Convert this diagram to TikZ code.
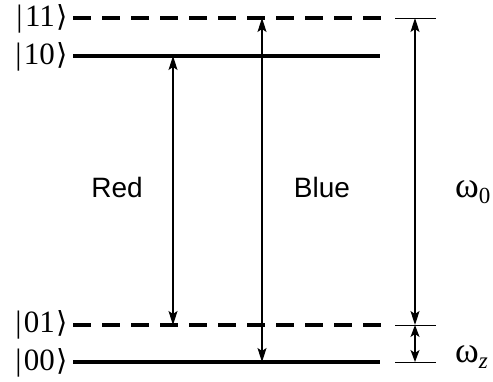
\documentclass[tikz,border=0pt]{standalone}
\usepackage{fontspec}
\setmainfont{Liberation Serif}
\newfontfamily\arialfont{Liberation Sans}
\newfontfamily\dvfont{DejaVu Sans}
\usetikzlibrary{arrows.meta}
\tikzset{
  level/.style={line width=3.6pt},
  dlevel/.style={line width=3.6pt, dash pattern=on 18pt off 11pt},
  trans/.style={line width=1.3pt, {Stealth[length=14pt,width=9pt,inset=3pt]}-{Stealth[length=14pt,width=9pt,inset=3pt]}},
  tick/.style={line width=0.8pt},
  ket/.style={anchor=east, font=\fontsize{31}{33}\selectfont, inner sep=0pt},
  lab/.style={font=\arialfont\fontsize{28}{30}\selectfont, inner sep=0pt, anchor=base},
  om/.style={font=\fontsize{36}{38}\selectfont, inner sep=0pt, anchor=base west}
}
\newcommand{\myket}[1]{|\kern2.5pt#1\kern1.5pt{\dvfont\fontsize{29}{30}\selectfont ⟩}}
\newcommand{\mysub}[1]{\raisebox{-6pt}{\fontsize{23}{23}\selectfont #1}}
\begin{document}
\begin{tikzpicture}[x=1pt,y=-1pt]
\useasboundingbox (0,0) rectangle (493,382);
% level end points
\coordinate (l11a) at (73,18);  \coordinate (l11b) at (382,18);
\coordinate (l10a) at (73,56);  \coordinate (l10b) at (380,56);
\coordinate (l01a) at (73,325); \coordinate (l01b) at (382,325);
\coordinate (l00a) at (73,362); \coordinate (l00b) at (380,362);
\draw[dlevel] (l11a) -- (l11b);
\draw[level] (l10a) -- (l10b);
\draw[dlevel] (l01a) -- (l01b);
\draw[level] (l00a) -- (l00b);
% kets
\node[ket] (k11) at (68,19) {\myket{11}};
\node[ket] (k10) at (68,57) {\myket{10}};
\node[ket] (k01) at (68,325) {\myket{01}};
\node[ket] (k00) at (68,363) {\myket{00}};
% transitions
\coordinate (r1) at (173,56); \coordinate (r2) at (173,325);
\coordinate (b1) at (262,18); \coordinate (b2) at (262,362);
\draw[trans] (r1) -- (r2);
\draw[trans] (b1) -- (b2);
\node[lab] (red) at (117,198) {Red};
\node[lab] (blue) at (322,198) {Blue};
% ticks
\coordinate (t1a) at (395,18);  \coordinate (t1b) at (436,18);
\coordinate (t2a) at (395,325); \coordinate (t2b) at (436,325);
\coordinate (t3a) at (395,362); \coordinate (t3b) at (436,362);
\draw[tick] (t1a) -- (t1b);
\draw[tick] (t2a) -- (t2b);
\draw[tick] (t3a) -- (t3b);
\coordinate (w1) at (415,18); \coordinate (w2) at (415,325); \coordinate (w3) at (415,362);
\draw[trans] (w1) -- (w2);
\draw[trans, {Stealth[length=12pt,width=9pt,inset=3pt]}-{Stealth[length=12pt,width=9pt,inset=3pt]}] (w2) -- (w3);
\node[om] (om0) at (455,198) {ω\mysub{0}};
\node[om] (omz) at (455,362) {ω\mysub{\textit{z}}};
\end{tikzpicture}
\end{document}
